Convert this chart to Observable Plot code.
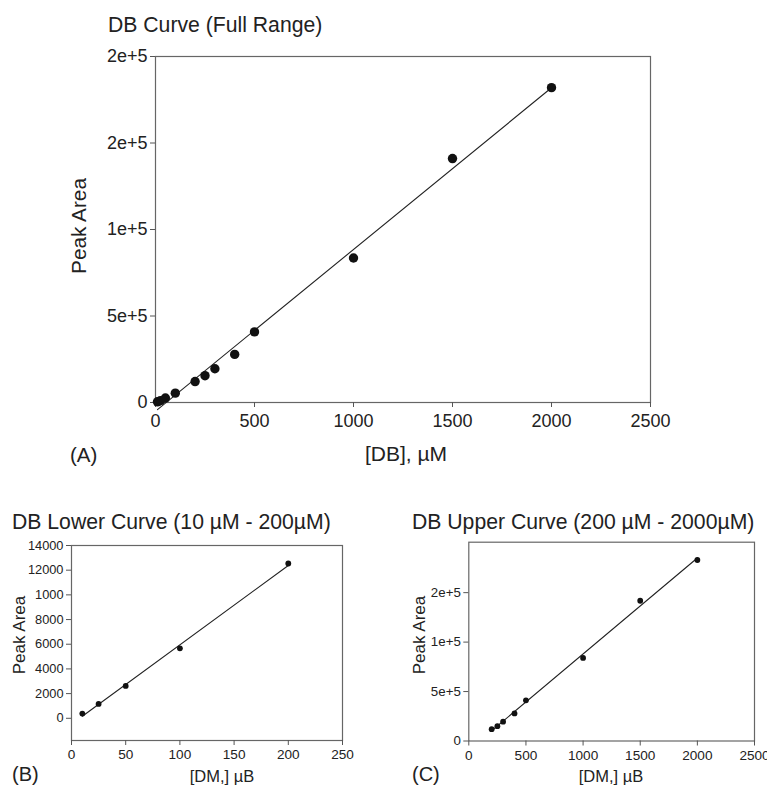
<!DOCTYPE html>
<html><head><meta charset="utf-8">
<script src="https://cdn.jsdelivr.net/npm/d3@7"></script>
<script src="https://cdn.jsdelivr.net/npm/@observablehq/plot@0.6"></script>
<style>
body{margin:0;background:#fff;font-family:"Liberation Sans",Arial,sans-serif;color:#222}
#wrap{position:relative;width:767px;height:787px;overflow:hidden}
.t{position:absolute;white-space:nowrap;line-height:1}
.rot{transform:translate(-50%,-50%) rotate(-90deg)}
.ctr{transform:translate(-50%,-50%)}
.p{position:absolute}
</style></head>
<body><div id="wrap"></div>
<script>
// ---- data ----
const fullConc = [10, 25, 50, 100, 200, 250, 300, 400, 500, 1000, 1500, 2000];
const fullArea = [400, 1100, 2600, 5400, 12100, 15500, 19500, 27800, 40800, 83500, 141000, 182000];
const lowerConc = [10, 25, 50, 100, 200];
const lowerArea = [380, 1165, 2620, 5665, 12540];
const upperConc = [200, 250, 300, 400, 500, 1000, 1500, 2000];
const upperArea = [12000, 15000, 19500, 27900, 41100, 84000, 141800, 183000];

const xTicksA = [0, 500, 1000, 1500, 2000, 2500];
const yTicksA = [0, 50000, 100000, 150000, 200000];
const yLabelsA = ["0", "5e+5", "1e+5", "2e+5", "2e+5"];
const xTicksB = [0, 50, 100, 150, 200, 250];
const yTicksB = [0, 2000, 4000, 6000, 8000, 10000, 12000, 14000];
const yLabelsB = ["0", "2000", "4000", "6000", "8000", "1000", "12000", "14000"];
const xTicksC = [0, 500, 1000, 1500, 2000, 2500];
const yTicksC = [0, 50000, 100000, 150000];
const yLabelsC = ["0", "5e+5", "1e+5", "2e+5"];

const titles = ["DB Curve (Full Range)", "DB Lower Curve (10 µM - 200µM)", "DB Upper Curve (200 µM - 2000µM)"];
const panelTags = ["(A)", "(B)", "(C)"];
const yTitle = "Peak Area";
const xTitles = ["[DB], µM", "[DM,] µB", "[DM,] µB"];

const zip = (xs, ys) => xs.map((x, i) => ({x, y: ys[i]}));
const wrap = document.getElementById("wrap");

function panel({data, left, top, width, height, margins, xDomain, yDomain, xTicks, yTicks, yLabels, r, fsx, fsy, padx}) {
  const [mt, mr, mb, ml] = margins;
  const svg = Plot.plot({
    width, height, marginTop: mt, marginRight: mr, marginBottom: mb, marginLeft: ml,
    style: {fontFamily: '"Liberation Sans", Arial, sans-serif', color: "#222", background: "transparent", overflow: "visible"},
    x: {domain: xDomain},
    y: {domain: yDomain},
    marks: [
      Plot.frame({stroke: "#666", strokeWidth: 1.2}),
      Plot.axisX({ticks: xTicks, tickFormat: d => String(d), tickSize: 5, tickPadding: padx, fontSize: fsx, label: null, stroke: "#555"}),
      Plot.axisY({ticks: yTicks, tickFormat: d => yLabels[yTicks.indexOf(d)], tickSize: 5, tickPadding: 3, fontSize: fsy, label: null, stroke: "#555"}),
      Plot.linearRegressionY(data, {x: "x", y: "y", ci: 0, stroke: "#222", strokeWidth: 1.1}),
      Plot.dot(data, {x: "x", y: "y", r, fill: "#111", stroke: "none"})
    ]
  });
  const d = document.createElement("div");
  d.className = "p"; d.style.left = left + "px"; d.style.top = top + "px";
  d.appendChild(svg);
  wrap.appendChild(d);
}

function label(text, x, y, size, cls) {
  const d = document.createElement("div");
  d.className = "t " + (cls || "");
  d.textContent = text;
  d.style.fontSize = size + "px";
  d.style.left = x + "px"; d.style.top = y + "px";
  wrap.appendChild(d);
}

// Panel A
panel({data: zip(fullConc, fullArea), left: 0, top: 0, width: 767, height: 470,
  margins: [56, 117, 68, 155], xDomain: [0, 2500], yDomain: [0, 200000],
  xTicks: xTicksA, yTicks: yTicksA, yLabels: yLabelsA, r: 4.7, fsx: 18, fsy: 18, padx: 7});
// Panel B
panel({data: zip(lowerConc, lowerArea), left: 0, top: 500, width: 380, height: 280,
  margins: [45, 38, 40, 71], xDomain: [0, 250], yDomain: [-1800, 14000],
  xTicks: xTicksB, yTicks: yTicksB, yLabels: yLabelsB, r: 2.9, fsx: 13.6, fsy: 12.8, padx: 4});
// Panel C
panel({data: zip(upperConc, upperArea), left: 380, top: 500, width: 387, height: 280,
  margins: [41.7, 13, 39.5, 88.3], xDomain: [0, 2500], yDomain: [0, 201000],
  xTicks: xTicksC, yTicks: yTicksC, yLabels: yLabelsC, r: 2.9, fsx: 13.6, fsy: 13.3, padx: 4});

// Titles and labels
label(titles[0], 108, 13.5, 21.2);
label(titles[1], 12, 510.5, 21.2);
label(titles[2], 412, 510.5, 21.2);
label(yTitle, 79, 226, 20.8, "rot");
label(yTitle, 19, 635, 17, "rot");
label(yTitle, 418.5, 635, 17, "rot");
label(xTitles[0], 406, 453, 21, "ctr");
label(xTitles[1], 222, 776, 16.5, "ctr");
label(xTitles[2], 611, 776, 16.5, "ctr");
label(panelTags[0], 70, 445, 20.5);
label(panelTags[1], 12, 764, 20);
label(panelTags[2], 412, 764, 20);
</script>
</body></html>
